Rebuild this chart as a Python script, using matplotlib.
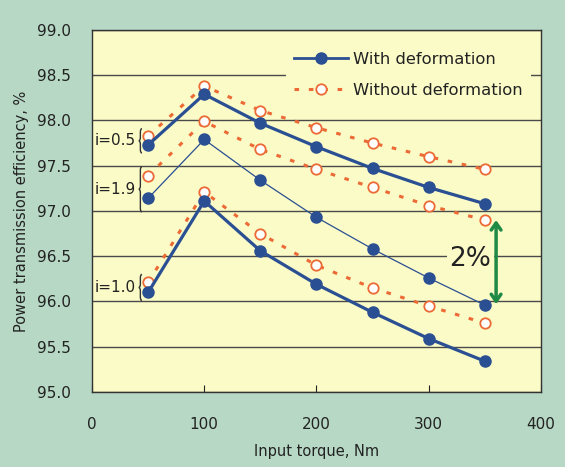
import matplotlib
matplotlib.use("Agg")
import matplotlib.pyplot as plt
from matplotlib.path import Path
from matplotlib.patches import PathPatch
from matplotlib.lines import Line2D

# Input torque, Nm
torque = [50, 100, 150, 200, 250, 300, 350]

# Efficiency, %
i05_with = [97.73, 98.29, 97.97, 97.71, 97.47, 97.26, 97.08]
i05_without = [97.83, 98.38, 98.11, 97.92, 97.75, 97.60, 97.46]
i19_with = [97.14, 97.79, 97.34, 96.93, 96.58, 96.26, 95.96]
i19_without = [97.39, 97.99, 97.68, 97.46, 97.26, 97.06, 96.90]
i10_with = [96.10, 97.11, 96.56, 96.19, 95.88, 95.59, 95.34]
i10_without = [96.21, 97.21, 96.75, 96.40, 96.15, 95.95, 95.76]

ratio_labels = ["i=0.5", "i=1.9", "i=1.0"]
ratio_spans = [(97.64, 97.91), (96.99, 97.49), (96.01, 96.30)]

xticks = [0, 100, 200, 300, 400]
yticks = [95.0, 95.5, 96.0, 96.5, 97.0, 97.5, 98.0, 98.5, 99.0]

BLUE = "#2a4f92"
ORANGE = "#ec6a35"
GREEN = "#1e8a45"
BG = "#b6d8c4"
PANEL = "#fbfbc8"
GRID = "#4a4a4a"

plt.rcParams['font.family'] = ['DejaVu Sans']

fig = plt.figure(figsize=(5.65, 4.67), dpi=100, facecolor=BG)
ax = fig.add_axes([0.1628, 0.1606, 0.7947, 0.7752], facecolor=PANEL)


def draw_brace(ax, x, y0, y1, w=2.8, d=0.04):
    ym = (y0 + y1) / 2
    xm = x - w / 2
    verts = [(x, y1), (xm, y1), (xm, y1 - d), (xm, ym + d),
             (xm, ym), (x - w, ym), (xm, ym), (xm, ym - d),
             (xm, y0 + d), (xm, y0), (x, y0)]
    codes = [Path.MOVETO, Path.CURVE3, Path.CURVE3, Path.LINETO,
             Path.CURVE3, Path.CURVE3, Path.CURVE3, Path.CURVE3,
             Path.LINETO, Path.CURVE3, Path.CURVE3]
    ax.add_patch(PathPatch(Path(verts, codes), fill=False, lw=1.0,
                           edgecolor="#333333", zorder=4))


dash = (0, (1.5, 3.2))
without_kw = dict(color=ORANGE, ls=dash, lw=2.2, marker="o", ms=7.5,
                  mfc="white", mec=ORANGE, mew=1.3, zorder=5)

ax.plot(torque, i05_without, **without_kw)
ax.plot(torque, i19_without, **without_kw)
ax.plot(torque, i10_without, **without_kw)

ax.plot(torque, i05_with, color=BLUE, lw=2.3, marker="o", ms=8, zorder=6)
ax.plot(torque, i19_with, color=BLUE, lw=0.9, marker="o", ms=8, zorder=6)
ax.plot(torque, i10_with, color=BLUE, lw=2.3, marker="o", ms=8, zorder=6)

# ratio labels with braces
for lab, (y0, y1) in zip(ratio_labels, ratio_spans):
    draw_brace(ax, 44.5, y0, y1)
    ax.text(39.3, (y0 + y1) / 2, lab, ha="right", va="center",
            fontsize=11, color="#222222", zorder=4)

# 2% arrow
ax.annotate("", xy=(360, 95.97), xytext=(360, 96.90),
            arrowprops=dict(arrowstyle="<->,head_length=0.5,head_width=0.35",
                            color=GREEN, lw=2.5, shrinkA=0, shrinkB=0),
            zorder=7)
ax.text(337, 96.47, "2%", ha="center", va="center", fontsize=19,
        color="#222222", zorder=7,
        bbox=dict(boxstyle="square,pad=0.1", fc=PANEL, ec="none"))

ax.set_xlim(0, 400)
ax.set_ylim(95.0, 99.0)
ax.set_xticks(xticks)
ax.set_yticks(yticks)
ax.set_yticklabels([f"{v:.1f}" for v in yticks])
ax.yaxis.grid(True, color=GRID, lw=1.0)
ax.set_axisbelow(True)
ax.tick_params(axis="x", direction="in", length=5, pad=18, labelsize=11,
               colors="#222222")
ax.tick_params(axis="y", length=0, pad=15, labelsize=11, colors="#222222")
for sp in ax.spines.values():
    sp.set_color("#333333")
    sp.set_linewidth(1.0)

ax.set_xlabel("Input torque, Nm", fontsize=10.5, labelpad=9, color="#222222")
ax.set_ylabel("Power transmission efficiency, %", fontsize=10.5, labelpad=6,
              color="#222222")

handles = [
    Line2D([], [], color=BLUE, lw=2.0, marker="o", ms=8),
    Line2D([], [], color=ORANGE, ls=dash, lw=2.2, marker="o", ms=7.5,
           mfc="white", mec=ORANGE, mew=1.3),
]
leg = ax.legend(handles, ["With deformation", "Without deformation"],
                loc="upper right", bbox_to_anchor=(0.995, 0.985),
                fontsize=11.8, frameon=True, facecolor=PANEL, edgecolor="none",
                framealpha=1.0, fancybox=False, handlelength=3.3,
                handletextpad=0.3, labelspacing=1.0, borderpad=0.5)
leg.set_zorder(3)
for t in leg.get_texts():
    t.set_color("#222222")

fig.savefig("out.png", dpi=100, facecolor=BG)
